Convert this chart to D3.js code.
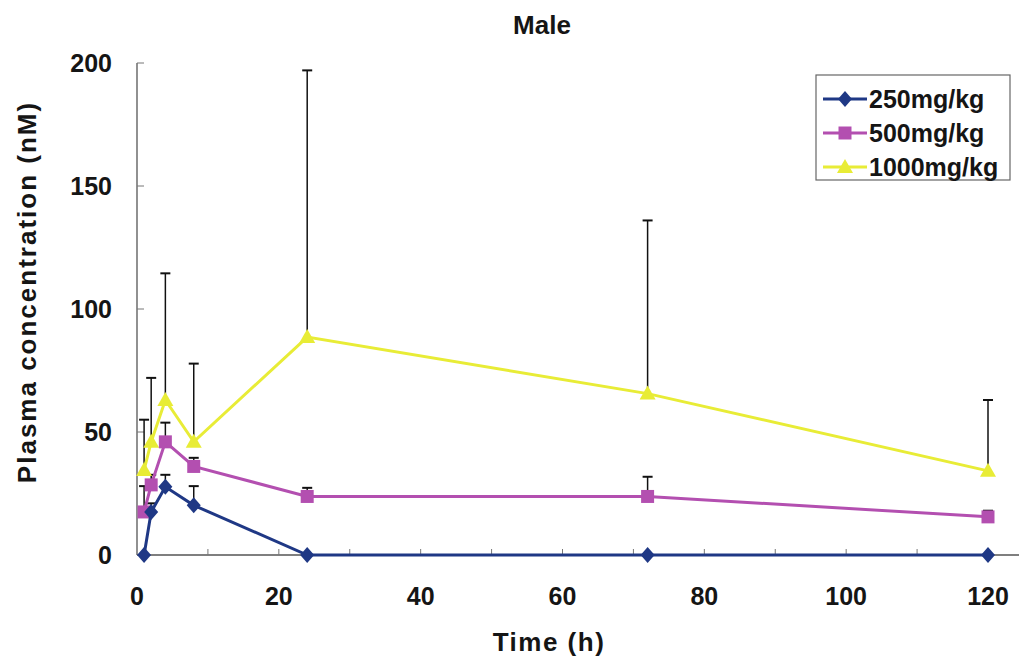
<!DOCTYPE html>
<html>
<head>
<meta charset="utf-8">
<script src="https://cdn.jsdelivr.net/npm/d3@7"></script>
<style>
  body { margin: 0; background: #fff; }
  text { font-family: "Liberation Sans", Arial, sans-serif; font-weight: bold; fill: #151515; }
</style>
</head>
<body>
<script>
// sampling times (h)
var times = [1, 2, 4, 8, 24, 72, 120];

// mean plasma concentration (nM) per dose
var dose250 = [0, 17.5, 27.7, 20.2, 0, 0, 0];
var dose500 = [17.5, 28.5, 46, 36, 23.8, 23.8, 15.5];
var dose1000 = [34.6, 46, 63, 46, 88.6, 65.6, 34.2];

// upper error (mean + SD)
var err250 = [0, 21, 32.6, 28, 0, 0, 0];
var err500 = [28, 32.6, 53.8, 39.5, 27.3, 31.8, 18];
var err1000 = [55, 72, 114.5, 77.8, 197, 136, 63];

var seriesNames = ["250mg/kg", "500mg/kg", "1000mg/kg"];
var xTicks = [0, 20, 40, 60, 80, 100, 120];
var yTicks = [0, 50, 100, 150, 200];

var colors = ["#1f3885", "#b34fb0", "#e8ec36"];

var series = [
  { name: seriesNames[0], values: dose250, errs: err250 },
  { name: seriesNames[1], values: dose500, errs: err500 },
  { name: seriesNames[2], values: dose1000, errs: err1000 }
];

// marker shapes: diamond, square, triangle
function marker(i) {
  if (i == 0) return "M0,-8L7,0L0,8L-7,0Z";
  if (i == 1) return "M-6.5,-6.5H6.5V6.5H-6.5Z";
  return "M0,-8L8,6H-8Z";
}

var width = 1019, height = 662;
var x0 = 137, y0 = 555;

var svg = d3.select("body").append("svg")
    .attr("width", width)
    .attr("height", height);

// scales
var x = d3.scaleLinear().domain([0, 120]).range([x0, 988]);
var y = d3.scaleLinear().domain([0, 200]).range([y0, 63]);

// axes lines
svg.append("line")
    .attr("x1", x0).attr("x2", width)
    .attr("y1", y0).attr("y2", y0)
    .attr("stroke", "#555").attr("stroke-width", 1.3);
svg.append("line")
    .attr("x1", x0).attr("x2", x0)
    .attr("y1", y0).attr("y2", y(200))
    .attr("stroke", "#555").attr("stroke-width", 1.3);

// x ticks every 10, pointing inside
d3.range(10, 130, 10).forEach(function(t) {
  svg.append("line")
      .attr("x1", x(t)).attr("x2", x(t))
      .attr("y1", y0).attr("y2", y0 - 6)
      .attr("stroke", "#777").attr("stroke-width", 1);
});
// y ticks
yTicks.forEach(function(t) {
  svg.append("line")
      .attr("x1", x0).attr("x2", x0 + 7)
      .attr("y1", y(t)).attr("y2", y(t))
      .attr("stroke", "#777").attr("stroke-width", 1);
});

// tick labels
svg.selectAll(".xlab")
    .data(xTicks)
    .enter().append("text")
    .attr("class", "xlab")
    .attr("x", function(d) { return x(d); })
    .attr("y", 605)
    .attr("text-anchor", "middle")
    .style("font-size", "25px")
    .text(function(d) { return d; });

svg.selectAll(".ylab")
    .data(yTicks)
    .enter().append("text")
    .attr("class", "ylab")
    .attr("x", 112)
    .attr("y", function(d) { return y(d) + 9; })
    .attr("text-anchor", "end")
    .style("font-size", "25px")
    .text(function(d) { return d; });

// title and axis titles
svg.append("text")
    .attr("x", 542).attr("y", 34)
    .attr("text-anchor", "middle")
    .style("font-size", "26px")
    .text("Male");

svg.append("text")
    .attr("x", 549).attr("y", 651)
    .attr("text-anchor", "middle")
    .style("font-size", "26px")
    .style("letter-spacing", "1.5px")
    .text("Time (h)");

svg.append("text")
    .attr("transform", "translate(36,292) rotate(-90)")
    .attr("text-anchor", "middle")
    .style("font-size", "26px")
    .style("letter-spacing", "2px")
    .text("Plasma concentration (nM)");

// error bars (upper only)
series.forEach(function(s) {
  var g = svg.append("g");
  times.forEach(function(t, i) {
    if (s.errs[i] <= s.values[i]) return;
    g.append("line")
        .attr("x1", x(t)).attr("x2", x(t))
        .attr("y1", y(s.values[i])).attr("y2", y(s.errs[i]))
        .attr("stroke", "#111").attr("stroke-width", 1.5);
    g.append("line")
        .attr("x1", x(t) - 5).attr("x2", x(t) + 5)
        .attr("y1", y(s.errs[i])).attr("y2", y(s.errs[i]))
        .attr("stroke", "#111").attr("stroke-width", 2);
  });
});

// lines and markers
var line = d3.line()
    .x(function(d, i) { return x(times[i]); })
    .y(function(d) { return y(d); });

[2, 1, 0].forEach(function(idx) {
  var s = series[idx];
  svg.append("path")
      .datum(s.values)
      .attr("d", line)
      .attr("fill", "none")
      .attr("stroke", colors[idx])
      .attr("stroke-width", 3);
  svg.selectAll(".m" + idx)
      .data(s.values)
      .enter().append("path")
      .attr("class", "m" + idx)
      .attr("transform", function(d, i) { return "translate(" + x(times[i]) + "," + y(d) + ")"; })
      .attr("d", marker(idx))
      .attr("fill", colors[idx]);
});

// legend
var legend = svg.append("g");
legend.append("rect")
    .attr("x", 816).attr("y", 75)
    .attr("width", 194).attr("height", 105)
    .attr("fill", "#fff")
    .attr("stroke", "#666").attr("stroke-width", 1.2);

series.forEach(function(s, i) {
  var ly = 99 + i * 34;
  legend.append("line")
      .attr("x1", 823).attr("x2", 867)
      .attr("y1", ly).attr("y2", ly)
      .attr("stroke", colors[i]).attr("stroke-width", 3);
  legend.append("path")
      .attr("transform", "translate(845," + ly + ")")
      .attr("d", marker(i))
      .attr("fill", colors[i]);
  legend.append("text")
      .attr("x", 869).attr("y", ly + 9)
      .style("font-size", "25px")
      .text(s.name);
});
</script>
</body>
</html>
